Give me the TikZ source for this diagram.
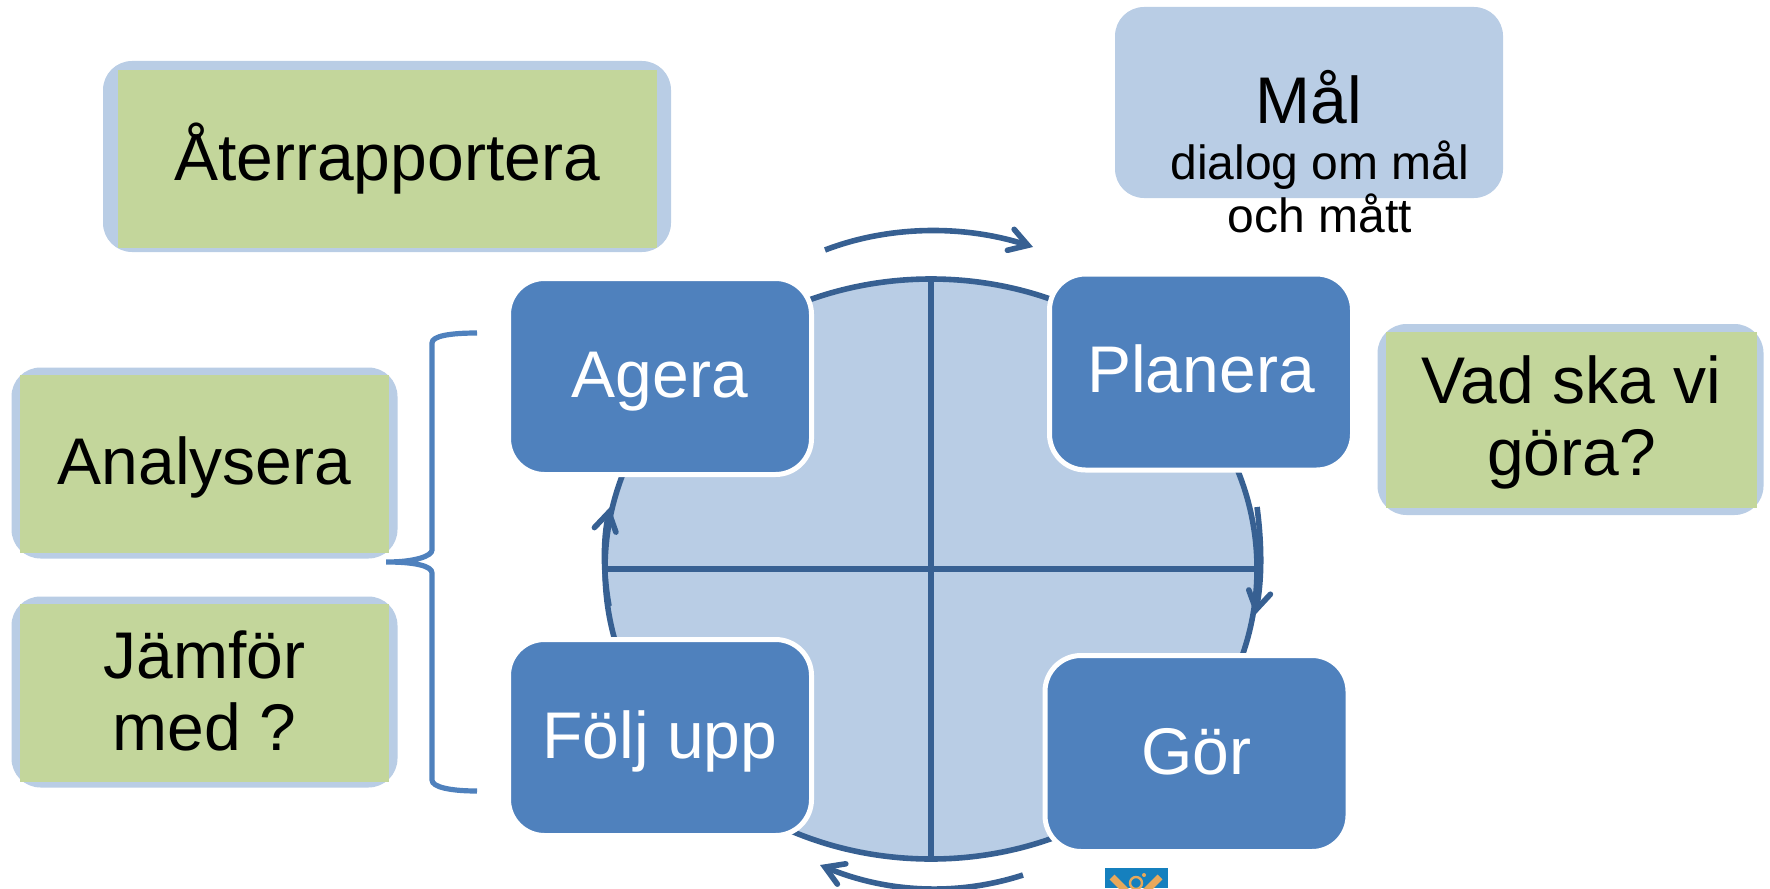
\documentclass[tikz,border=0pt]{standalone}
\usepackage{fontspec}
\setmainfont{Liberation Sans}
\usetikzlibrary{arrows.meta}
\definecolor{darkblue}{HTML}{376092}
\definecolor{midblue}{HTML}{4F81BD}
\definecolor{paleblue}{HTML}{B9CDE5}
\definecolor{palegreen}{HTML}{C3D69B}
\definecolor{logoblue}{HTML}{1580BE}
\definecolor{logogold}{HTML}{E8A85A}
\tikzset{
  stepbox/.style={rectangle,rounded corners=18pt,fill=midblue,draw=white,line width=2.5pt,
    minimum width=151.5pt,minimum height=98pt,inner sep=0pt,text=white,text height=24pt,text depth=3.2pt,
    font=\fontsize{33}{36}\selectfont},
  backbox/.style={rectangle,rounded corners=14.5pt,fill=paleblue,minimum width=193pt,minimum height=95.5pt,inner sep=0pt},
  notebox/.style={rectangle,fill=palegreen,inner sep=0pt,align=center,font=\fontsize{33}{36}\selectfont},
  flow/.style={darkblue,line width=2.8pt,-{Straight Barb[length=9pt,width=11pt,line cap=round]}},
}
\begin{document}
\begin{tikzpicture}[x=0.5pt,y=-0.5pt]
\useasboundingbox (0,0) rectangle (1770,888);
\def\CX{931}
\def\CY{569}
\def\RX{326}
\def\RY{290}

%the wheel with its cross
\draw[darkblue,line width=2.8pt,fill=paleblue] (\CX,\CY) ellipse[x radius=\RX,y radius=\RY];
\draw[darkblue,line width=2.8pt] (\CX,\CY-\RY) -- (\CX,\CY+\RY);
\draw[darkblue,line width=2.8pt] (\CX-\RX,\CY) -- (\CX+\RX,\CY);

%arrows round the wheel
\begin{scope}
  \clip (0,0) rectangle (1770,888);
  \draw[flow] (825,250) .. controls (890,225) and (965,225) .. (1033,247);
  \draw[flow] (1257,507) .. controls (1262,545) and (1262,580) .. (1255,615);
  \draw[flow] (1023,875) .. controls (955,897) and (885,892) .. (820,865);
  \draw[flow] (609,606) .. controls (603,572) and (603,540) .. (610,507);
\end{scope}

%the four steps
\node[stepbox] (agera) at (660,376.5) {Agera};
\node[stepbox] (planera) at (1201,372) {Planera};
\node[stepbox] (foljupp) at (660,737.5) {Följ upp};
\node[stepbox] (gor) at (1196.5,753.5) {Gör};

%notes on the left
\node[backbox,minimum width=284pt] (backater) at (387,156.5) {};
\node[notebox,minimum width=269.5pt,minimum height=89pt] (ater) at (387,159) {Återrapportera};
\node[backbox] (backanalys) at (204.5,463) {};
\node[notebox,minimum width=184.5pt,minimum height=89pt,text depth=3.5pt] (analys) at (204.5,464) {Analysera};
\node[backbox] (backjamfor) at (204.5,692) {};
\node[notebox,minimum width=184.5pt,minimum height=89pt,text depth=2.8pt] (jamfor) at (204.5,693) {Jämför\\med ?};

%note on the right
\node[backbox] (backvad) at (1570.5,419.5) {};
\node[notebox,minimum width=185.5pt,minimum height=88pt,text depth=4.6pt] (vad) at (1571.5,420) {Vad ska vi\\göra?};

%goal box, its second text runs out of the box
\node[backbox,minimum width=194pt] (backmal) at (1309,102.5) {};
\node[anchor=base,font=\fontsize{33}{36}\selectfont] (mal) at (1309,124) {Mål};
\node[anchor=base,font=\fontsize{24}{26}\selectfont] (dialog) at (1320,179) {dialog om mål};
\node[anchor=base,font=\fontsize{24}{26}\selectfont] (ochmatt) at (1320,232) {och mått};

%bracket from the steps to the notes
\draw[midblue,line width=2.6pt,line cap=butt,rounded corners=1pt]
  (477,333) .. controls (450,333) and (432,336) .. (432,345)
  -- (432,548) .. controls (432,556) and (415,562) .. (385,562)
  .. controls (415,562) and (432,566) .. (432,575)
  -- (432,778) .. controls (432,787) and (450,791) .. (477,791);

%the emblem, cut by the lower edge
\begin{scope}
  \clip (1105,868) rectangle (1168,888);
  \fill[logoblue] (1105,868) rectangle (1168,888);
  \draw[logogold,line width=3.5pt] (1112,877) -- (1128,893);
  \draw[logogold,line width=3.5pt] (1160,877) -- (1144,893);
  \draw[logogold,line width=1.2pt] (1136,883) circle(6);
  \fill[logogold] (1144,875) circle(2);
\end{scope}

\end{tikzpicture}
\end{document}
